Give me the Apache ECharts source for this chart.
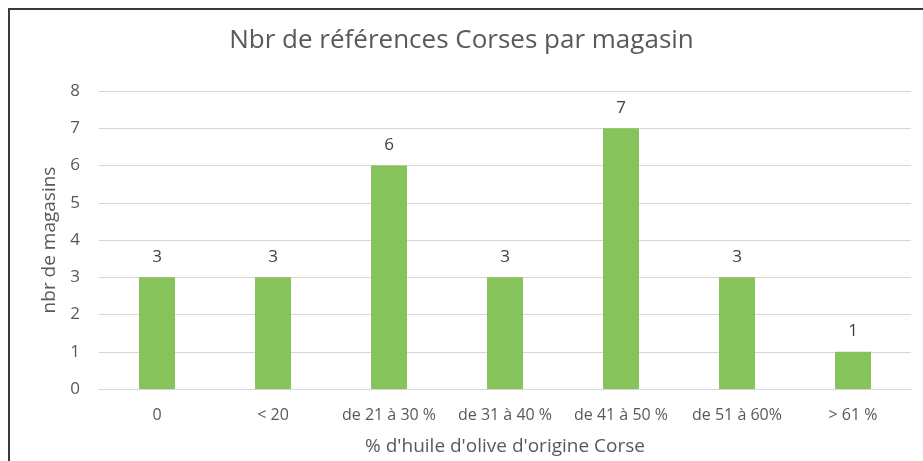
<!DOCTYPE html>
<html>
<head>
<meta charset="utf-8">
<script src="https://cdn.jsdelivr.net/npm/echarts@6/dist/echarts.min.js"></script>
<style>
	html, body { margin: 0; padding: 0; background: #fff; }
	.frame {
		position: absolute;
		left: 8px;
		top: 8px;
		width: 1000px;
		height: 1000px;
		border: 2px solid #3a3a3a;
	}
	#chart {
		position: absolute;
		left: 0;
		top: 0;
		width: 923px;
		height: 461px;
	}
</style>
</head>
<body>
<div class="frame"></div>
<div id="chart"></div>
<script>
const categories = ['0', '< 20', 'de 21 à 30 %', 'de 31 à 40 %', 'de 41 à 50 %', 'de 51 à 60%', '> 61 %']
const magasins = [3, 3, 6, 3, 7, 3, 1]

const textColor = '#595959'
const fontFamily = '"Open Sans", Lato, sans-serif'

const myChart = echarts.init(document.getElementById('chart'))
myChart.setOption({
	animation: false,
	textStyle: { fontFamily: fontFamily },
	title: {
		text: 'Nbr de références Corses par magasin',
		left: 'center',
		top: 23,
		textStyle: {
			fontFamily: fontFamily,
			fontSize: 26,
			fontWeight: 'normal',
			color: textColor,
		},
	},
	grid: {
		left: 99,
		right: 12,
		top: 91,
		bottom: 70,
	},
	xAxis: {
		type: 'category',
		data: categories,
		name: "% d'huile d'olive d'origine Corse",
		nameLocation: 'middle',
		nameGap: 48,
		nameTextStyle: { fontSize: 19, color: textColor },
		axisLine: { lineStyle: { color: '#d9d5d2' } },
		axisTick: { show: false },
		axisLabel: { interval: 0, fontSize: 16, color: textColor, margin: 18 },
	},
	yAxis: {
		type: 'value',
		min: 0,
		max: 8,
		interval: 1,
		name: 'nbr de magasins',
		nameLocation: 'middle',
		nameGap: 36,
		nameTextStyle: { fontSize: 19, color: textColor },
		axisLine: { show: false },
		axisTick: { show: false },
		axisLabel: { fontSize: 17, color: textColor, margin: 19 },
		splitLine: { lineStyle: { color: '#d9d5d2', width: 1 } },
	},
	series: [
		{
			type: 'bar',
			data: magasins,
			barWidth: '31%',
			itemStyle: { color: '#86c35a' },
			label: {
				show: true,
				position: 'top',
				distance: 12,
				fontSize: 17,
				color: '#404040',
			},
		},
	],
})
</script>
</body>
</html>
